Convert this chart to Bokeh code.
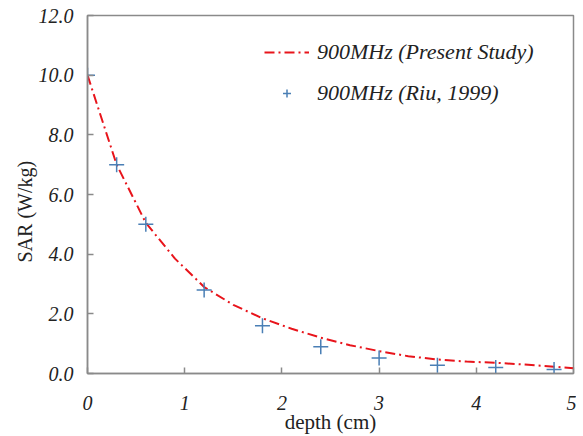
from bokeh.plotting import figure
from bokeh.models import FixedTicker, Legend, LegendItem, Range1d, Title
from bokeh.embed import file_html
from bokeh.resources import INLINE

# Present study curve
line_x = [0, 0.3, 0.6, 0.9, 1.2, 1.5, 1.8, 2.1, 2.4, 2.7, 3.0, 3.3, 3.6, 3.9, 4.2, 4.5, 4.8, 5.0]
line_y = [10.0, 7.0, 5.05, 3.85, 2.9, 2.3, 1.85, 1.5, 1.2, 0.95, 0.75, 0.58, 0.47, 0.40, 0.36, 0.30, 0.23, 0.18]

# Riu, 1999 points
riu_x = [0, 0.3, 0.6, 1.2, 1.8, 2.4, 3.0, 3.6, 4.2, 4.8]
riu_y = [10.0, 7.0, 5.0, 2.8, 1.6, 0.9, 0.52, 0.28, 0.2, 0.13]

x_ticks = [0, 1, 2, 3, 4, 5]
y_ticks = [0, 2, 4, 6, 8, 10, 12]

SERIF = "Liberation Serif"
AXIS_COL = "#8a8a8a"
TXT = "#222222"

p = figure(width=576, height=436, output_backend="svg", toolbar_location=None,
           x_range=Range1d(0, 5), y_range=Range1d(0, 12),
           min_border_left=87, min_border_right=3, min_border_top=15, min_border_bottom=62)
p.xgrid.visible = False
p.ygrid.visible = False
p.outline_line_color = AXIS_COL
p.outline_line_width = 1.5

for ax in (p.xaxis[0], p.yaxis[0]):
    ax.axis_line_color = AXIS_COL
    ax.axis_line_width = 1.5
    ax.major_tick_line_color = AXIS_COL
    ax.major_tick_line_width = 1.5
    ax.major_tick_in = 6
    ax.major_tick_out = 0
    ax.minor_tick_line_color = None
    ax.major_label_text_font = SERIF
    ax.major_label_text_font_style = "italic"
    ax.major_label_text_font_size = "20px"
    ax.major_label_text_color = TXT

p.xaxis.ticker = FixedTicker(ticks=x_ticks)
p.xaxis.major_label_overrides = {t: str(t) for t in x_ticks}
p.xaxis.major_label_standoff = 22
p.xaxis.axis_label = "depth (cm)"
p.xaxis.axis_label_text_font = SERIF
p.xaxis.axis_label_text_font_style = "normal"
p.xaxis.axis_label_text_font_size = "21px"
p.xaxis.axis_label_text_color = TXT
p.xaxis.axis_label_standoff = -3

p.yaxis.ticker = FixedTicker(ticks=y_ticks)
p.yaxis.major_label_overrides = {t: f"{t:.1f}" for t in y_ticks}
p.yaxis.major_label_standoff = 14

# y-axis title placed in the left panel
ytitle = Title(text="SAR (W/kg)", align="left", offset=111, standoff=0,
               text_font=SERIF, text_font_style="normal", text_font_size="20px",
               text_color=TXT)
p.add_layout(ytitle, "left")

r_line = p.line(line_x, line_y, line_color="#e8141b", line_width=2, line_dash="10 4 2 4")
r_pts = p.scatter(riu_x, riu_y, marker="cross", size=15, line_color="#4a7fb5", line_width=1.5)

legend = Legend(items=[LegendItem(label="900MHz (Present Study)", renderers=[r_line]),
                       LegendItem(label="900MHz (Riu, 1999)", renderers=[r_pts])],
                location=(177, 267), border_line_color=None, background_fill_alpha=0,
                label_text_font=SERIF, label_text_font_style="italic",
                label_text_font_size="22px", label_text_color=TXT,
                glyph_width=45, glyph_height=20, label_standoff=8, spacing=15,
                padding=0, margin=0)
p.add_layout(legend)

open("out.html", "w").write(file_html(p, INLINE))
